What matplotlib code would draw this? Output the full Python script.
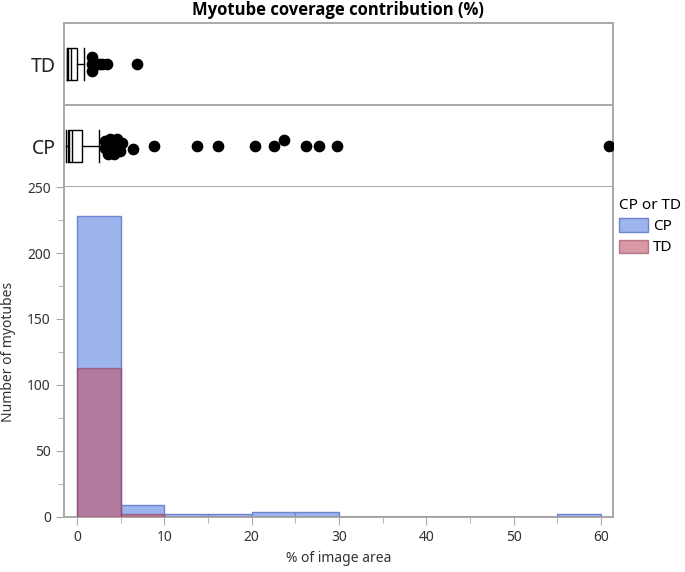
import numpy as np
import matplotlib
matplotlib.use("Agg")
import matplotlib.pyplot as plt
from matplotlib.patches import Patch
from matplotlib.ticker import MultipleLocator

plt.rcParams['font.family'] = ['Noto Sans', 'DejaVu Sans']

# Histogram data (bins of 5 % width)
bin_edges = np.arange(0, 65, 5)
cp_counts = [228, 9, 2, 2, 4, 4, 0, 0, 0, 0, 0, 2]
td_counts = [113, 2, 0, 0, 0, 0, 0, 0, 0, 0, 0, 0]

# Box plot summaries: q1, median, mean, q3, low whisker, high whisker
td_box = dict(q1=0.0, med=0.18, mean=0.45, q3=1.16, whislo=0.0, whishi=1.98)
cp_box = dict(q1=0.18, med=0.3, mean=0.56, q3=1.75, whislo=-0.08, whishi=3.66)

# Outlier points (value, vertical offset)
td_out_x = [2.8, 2.8, 2.8, 3.2, 3.6, 4.0, 4.5, 7.93]
td_out_dy = [0.085, 0.0, -0.09, 0.0, 0.0, 0.0, 0.0, 0.0]
cp_out_x = [4.30, 4.86, 5.61, 6.17, 4.30, 4.86, 5.42, 4.67, 5.34, 5.98, 7.48, 9.8,
            14.59, 17.01, 21.17, 23.3, 24.42, 26.82, 28.35, 30.37, 60.85]
cp_out_dy = [0.059, 0.091, 0.091, 0.039, -0.022, 0.0, -0.022, -0.095, -0.095, -0.063, -0.034, 0.0,
             0.0, 0.0, 0.0, 0.0, 0.07, 0.0, 0.0, 0.0, 0.0]

blue = '#9eb4ec'
blue_edge = '#6a86cf'
red = '#c0566a'
red_edge = '#8e3f5e'
gray = '#a8a8a8'
W, H = 685, 572

fig = plt.figure(figsize=(W / 100, H / 100), dpi=100)

def frac(left, top, right, bottom):
    return [left / W, 1 - bottom / H, (right - left) / W, (bottom - top) / H]

ax_td = fig.add_axes(frac(64, 23, 613, 105))
ax_cp = fig.add_axes(frac(64, 105, 613, 187))
ax_h = fig.add_axes(frac(64, 187, 613, 517))

for ax, stats, ox, ody, lab in [(ax_td, td_box, td_out_x, td_out_dy, 'TD'),
                                (ax_cp, cp_box, cp_out_x, cp_out_dy, 'CP')]:
    st = dict(stats)
    st['fliers'] = []
    ax.bxp([st], positions=[0.5], vert=False, widths=0.4, showmeans=True, meanline=True,
           showfliers=False, capwidths=0.4,
           boxprops=dict(color='black', lw=1.0),
           whiskerprops=dict(color='black', lw=1.0),
           capprops=dict(color='black', lw=1.0),
           medianprops=dict(color='black', lw=1.0),
           meanprops=dict(color='black', lw=1.0, linestyle='-'))
    ax.plot(ox, 0.5 + np.array(ody), 'o', color='black', markersize=7.4, clip_on=True, zorder=3)
    ax.set_xlim(-0.3, 61.3)
    ax.set_ylim(0, 1)
    ax.set_xticks([])
    ax.set_yticks([0.5])
    ax.set_yticklabels([lab], fontsize=14, color='#222222')
    ax.tick_params(axis='y', length=0, pad=6)
    for s in ax.spines.values():
        s.set_color(gray)
        s.set_linewidth(1.4)

# histogram, CP behind TD
ax_h.bar(bin_edges[:-1], cp_counts, width=5, align='edge', color=blue,
         edgecolor=blue_edge, linewidth=1.0, zorder=2)
ax_h.bar(bin_edges[:-1], td_counts, width=5, align='edge', color=red, alpha=0.6,
         edgecolor=red_edge, linewidth=1.0, zorder=3)
ax_h.set_xlim(-1.49, 61.38)
ax_h.set_ylim(0, 250)
ax_h.xaxis.set_major_locator(MultipleLocator(10))
ax_h.xaxis.set_minor_locator(MultipleLocator(5))
ax_h.yaxis.set_major_locator(MultipleLocator(50))
ax_h.yaxis.set_minor_locator(MultipleLocator(25))
ax_h.tick_params(which='major', length=6, color=gray, labelsize=10, labelcolor='#333333')
ax_h.tick_params(which='minor', length=4, color=gray)
ax_h.spines['top'].set_visible(False)
for s in ['left', 'bottom', 'right']:
    ax_h.spines[s].set_color(gray)
    ax_h.spines[s].set_linewidth(1.4)
ax_h.set_xlabel('% of image area', fontsize=10, color='#333333', labelpad=4)
ax_h.set_ylabel('Number of myotubes', fontsize=10, color='#333333', labelpad=8)

fig.text(338 / W, 1 - 10 / H, 'Myotube coverage contribution (%)', ha='center', va='center',
         fontsize=12, fontweight='bold', family=['Open Sans', 'Lato', 'DejaVu Sans'])

handles = [Patch(facecolor=blue, edgecolor=blue_edge),
           Patch(facecolor=red, alpha=0.6, edgecolor=red_edge)]
leg = fig.legend(handles, ['CP', 'TD'], loc='upper left', bbox_to_anchor=(616 / W, 1 - 195 / H),
                 frameon=False, title='CP or TD', alignment='left', fontsize=11,
                 title_fontsize=11, handlelength=1.9, handleheight=0.95,
                 handletextpad=0.3, labelspacing=0.35, borderpad=0.2, borderaxespad=0)

fig.savefig('out.png', dpi=100)
